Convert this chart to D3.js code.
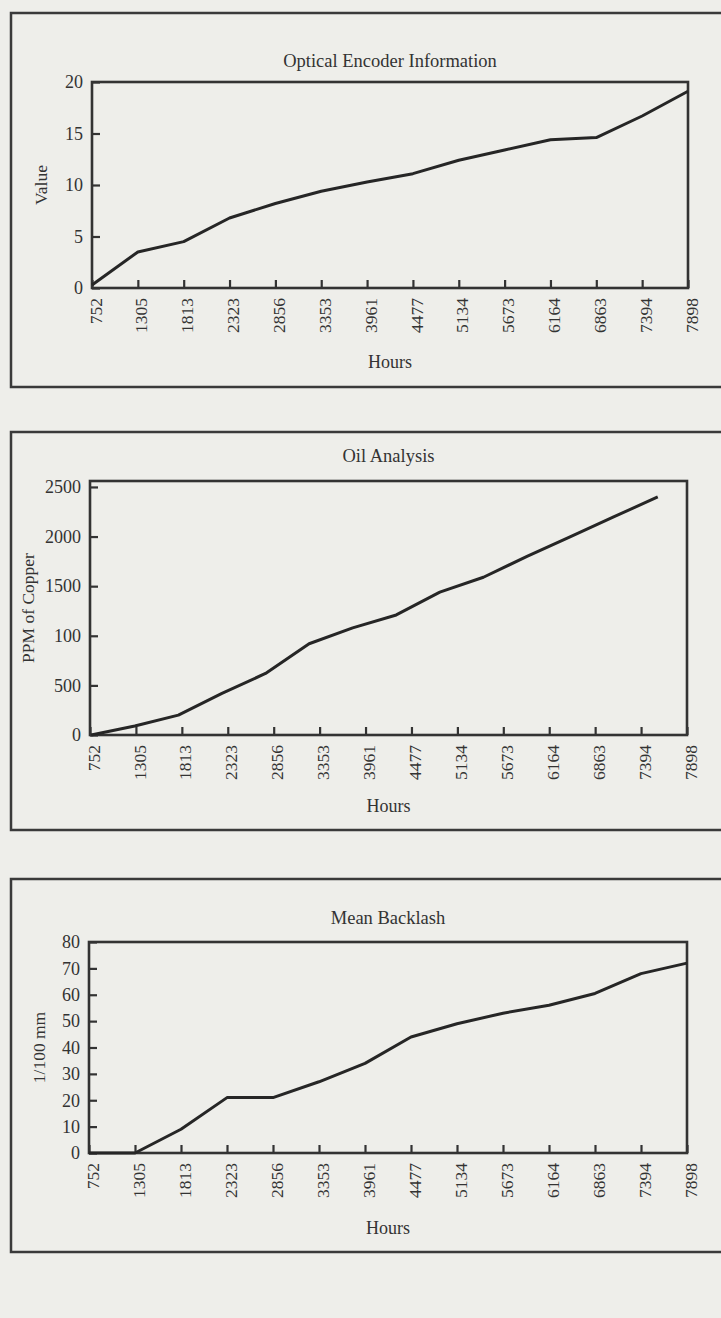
<!DOCTYPE html>
<html>
<head>
<meta charset="utf-8">
<script src="https://cdn.jsdelivr.net/npm/d3@7"></script>
<style>
  html, body { margin: 0; padding: 0; background: #eeeeea; }
  svg { display: block; }
  text { font-family: "Liberation Serif", "Times New Roman", serif; fill: #333; }
</style>
</head>
<body>
<svg id="page" width="721" height="1318"></svg>
<script>
// Hours at which each inspection was taken (shared category axis)
const hours = [752, 1305, 1813, 2323, 2856, 3353, 3961, 4477, 5134, 5673, 6164, 6863, 7394, 7898];

// Optical encoder reading
const encoderValues = [0.3, 3.5, 4.5, 6.8, 8.2, 9.4, 10.3, 11.1, 12.4, 13.4, 14.4, 14.6, 16.7, 19.1];
const encoderTicks = [0, 5, 10, 15, 20];
const encoderTickLabels = ["0", "5", "10", "15", "20"];

// Copper content of the oil (ppm)
const copperValues = [0, 90, 200, 420, 620, 920, 1080, 1210, 1440, 1590, 1800, 2000, 2200, 2400];
const copperTicks = [0, 500, 1000, 1500, 2000, 2500];
const copperTickLabels = ["0", "500", "100", "1500", "2000", "2500"];

// Mean backlash (1/100 mm)
const backlashValues = [0, 0, 9, 21, 21, 27, 34, 44, 49, 53, 56, 60.5, 68, 72];
const backlashTicks = [0, 10, 20, 30, 40, 50, 60, 70, 80];
const backlashTickLabels = ["0", "10", "20", "30", "40", "50", "60", "70", "80"];

const svg = d3.select("#page");

function drawPanel(cfg) {
  const g = svg.append("g");

  // outer frame (runs past the right edge of the page)
  g.append("rect")
    .attr("x", cfg.box.left).attr("y", cfg.box.top)
    .attr("width", 760 - cfg.box.left).attr("height", cfg.box.bottom - cfg.box.top)
    .attr("fill", "none").attr("stroke", "#3a3a3a").attr("stroke-width", 2.5);

  const p = cfg.plot;
  const w = p.right - p.left, h = p.bottom - p.top;

  const x = d3.scalePoint().domain(hours).range([p.left, p.right]);
  const xLine = d3.scalePoint().domain(hours)
    .range([p.left + cfg.lineStart * w, p.left + cfg.lineEnd * w]);
  const y = d3.scaleLinear().domain(cfg.yDomain).range([p.bottom, p.top]);

  // x axis with inward ticks and vertical labels
  const xa = g.append("g").attr("transform", `translate(0,${p.bottom})`)
    .call(d3.axisBottom(x).tickSizeInner(-8).tickSizeOuter(0));
  xa.select(".domain").remove();
  xa.selectAll(".tick line").attr("stroke", "#333").attr("stroke-width", 2.2);
  xa.selectAll(".tick text")
    .attr("transform", "rotate(-90)")
    .attr("text-anchor", "end")
    .attr("x", -10).attr("y", 3).attr("dy", "0.35em")
    .style("font-size", "17.5px")
    .attr("fill", "#333");

  // y axis
  const ya = g.append("g").attr("transform", `translate(${p.left},0)`)
    .call(d3.axisLeft(y).tickValues(cfg.ticks)
      .tickFormat((d, i) => cfg.tickLabels[i])
      .tickSizeInner(-8).tickSizeOuter(0).tickPadding(9));
  ya.select(".domain").remove();
  ya.selectAll(".tick line").attr("stroke", "#333").attr("stroke-width", 2.2);
  ya.selectAll(".tick text").style("font-size", "18px").attr("fill", "#333");

  // plot frame
  g.append("rect")
    .attr("x", p.left).attr("y", p.top).attr("width", w).attr("height", h)
    .attr("fill", "none").attr("stroke", "#333").attr("stroke-width", 2.6);

  // series line
  g.append("path")
    .datum(cfg.values)
    .attr("fill", "none").attr("stroke", "#262626").attr("stroke-width", 3)
    .attr("stroke-linejoin", "round")
    .attr("d", d3.line().x((d, i) => xLine(hours[i])).y(d => y(d)));

  // titles
  const cx = (p.left + p.right) / 2;
  g.append("text").attr("x", cx).attr("y", cfg.titleY).attr("dy", "0.35em")
    .attr("text-anchor", "middle").style("font-size", "18.5px").text(cfg.title);
  g.append("text").attr("x", cx).attr("y", cfg.xLabelY).attr("dy", "0.35em")
    .attr("text-anchor", "middle").style("font-size", "18px").text("Hours");
  g.append("text")
    .attr("transform", `translate(${cfg.yLabelX},${(p.top + p.bottom) / 2}) rotate(-90)`)
    .attr("dy", "0.35em").attr("text-anchor", "middle")
    .style("font-size", "17.5px").text(cfg.yLabel);
}

drawPanel({
  title: "Optical Encoder Information", yLabel: "Value",
  values: encoderValues, ticks: encoderTicks, tickLabels: encoderTickLabels,
  yDomain: [0, 20], lineStart: 0, lineEnd: 1,
  box: { left: 11, top: 13, bottom: 387 },
  plot: { left: 92, top: 82, right: 688, bottom: 288 },
  titleY: 61, xLabelY: 362, yLabelX: 41
});

drawPanel({
  title: "Oil Analysis", yLabel: "PPM of Copper",
  values: copperValues, ticks: copperTicks, tickLabels: copperTickLabels,
  yDomain: [0, 2560], lineStart: 0.002, lineEnd: 0.951,
  box: { left: 11, top: 432, bottom: 830 },
  plot: { left: 90, top: 481, right: 687, bottom: 735 },
  titleY: 456, xLabelY: 806, yLabelX: 28
});

drawPanel({
  title: "Mean Backlash", yLabel: "1/100 mm",
  values: backlashValues, ticks: backlashTicks, tickLabels: backlashTickLabels,
  yDomain: [0, 80], lineStart: 0, lineEnd: 1,
  box: { left: 11, top: 879, bottom: 1252 },
  plot: { left: 89, top: 942, right: 687, bottom: 1153 },
  titleY: 918, xLabelY: 1228, yLabelX: 39
});
</script>
</body>
</html>
